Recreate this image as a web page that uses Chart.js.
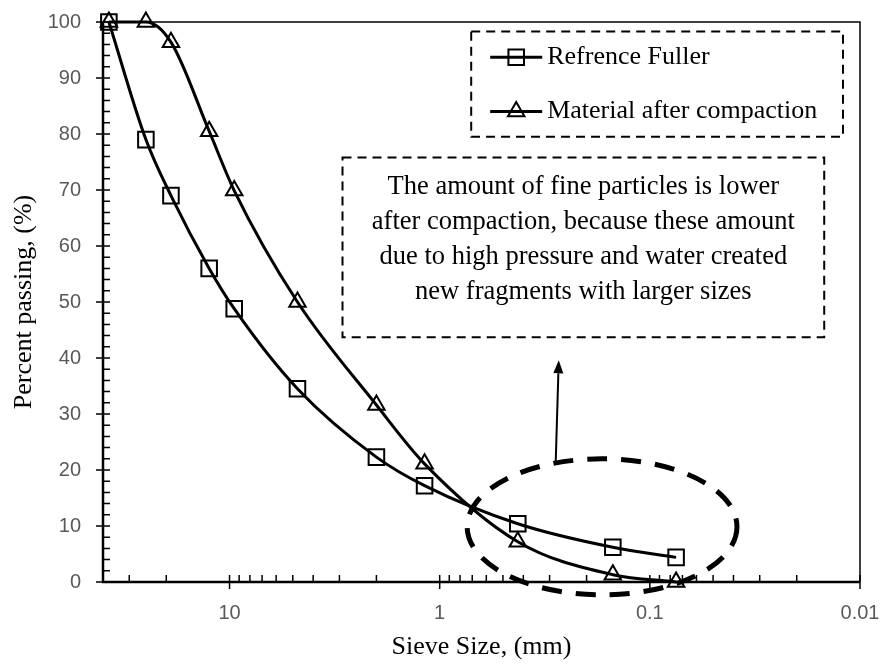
<!DOCTYPE html>
<html>
<head>
<meta charset="utf-8">
<title>Gradation curves</title>
<script src="https://cdn.jsdelivr.net/npm/chart.js@4.4.1/dist/chart.umd.min.js"></script>
<style>
  html, body { margin: 0; padding: 0; background: #fff; }
  #wrap { position: relative; width: 882px; height: 665px; }
</style>
</head>
<body>
<div id="wrap"><canvas id="gradationChart"></canvas></div>
<script>
// sieve sizes (mm) and percent passing for each gradation
const sieveSizes = [37.5, 25, 19, 12.5, 9.5, 4.75, 2.0, 1.18, 0.425, 0.15, 0.075];
const fullerPassing = [100, 79, 69, 56, 48.8, 34.5, 22.3, 17.2, 10.4, 6.2, 4.4];
const compactedPassing = [100, 100, 96.4, 80.5, 69.9, 50, 31.6, 21.1, 7.2, 1.3, 0];
const seriesNames = ["Refrence Fuller", "Material after compaction"];

const xTickValues = [10, 1, 0.1, 0.01];
const xTickLabels = ["10", "1", "0.1", "0.01"];

const noteLines = [
  "The amount of fine particles is lower",
  "after compaction, because these amount",
  "due to high pressure and water created",
  "new fragments with larger sizes",
];

const SERIF = "'Liberation Serif', 'Times New Roman', serif";
const SANS = "'Liberation Sans', Arial, sans-serif";

// overlay placement in axis units (x in mm, y in %)
const legendBox = { x1: 0.708, x2: 0.01205, y1: 98.3, y2: 79.5, rows: [93.7, 84.0] };
const noteBox = { x1: 2.9, x2: 0.0148, y1: 75.8, y2: 43.7 };
const ringArea = { x1: 0.74, x2: 0.0385, y1: 22, y2: -2.3 };
const arrowLine = { x1: 0.2805, y1: 21.4, x2: 0.2713, y2: 39.6 };

const pairs = (ys) => sieveSizes.map((s, i) => ({ x: s, y: ys[i] }));

const frameAndTicks = {
  id: "frameAndTicks",
  beforeDatasetsDraw(chart) {
    const { ctx, chartArea: a, scales: { x, y } } = chart;
    ctx.save();
    ctx.strokeStyle = "#000";
    ctx.lineWidth = 1.5;
    ctx.beginPath();
    ctx.moveTo(a.left, a.top);
    ctx.lineTo(a.right, a.top);
    ctx.lineTo(a.right, a.bottom);
    ctx.stroke();

    ctx.lineWidth = 2.5;
    ctx.beginPath();
    ctx.moveTo(a.left, a.top);
    ctx.lineTo(a.left, a.bottom);
    ctx.lineTo(a.right, a.bottom);
    ctx.stroke();

    ctx.lineWidth = 1.5;
    ctx.beginPath();
    for (let v = 0; v <= 100; v += 2) {
      const py = y.getPixelForValue(v);
      ctx.moveTo(v % 10 === 0 ? a.left - 7 : a.left, py);
      ctx.lineTo(a.left + 7, py);
    }
    for (let e = -2; e <= 1; e++) {
      for (let m = 1; m <= 9; m++) {
        const v = m * Math.pow(10, e);
        if (v >= x.max) continue;
        const px = x.getPixelForValue(v);
        ctx.moveTo(px, m === 1 ? a.bottom + 7 : a.bottom);
        ctx.lineTo(px, a.bottom - 7);
      }
    }
    ctx.stroke();
    ctx.restore();
  },
};

const overlays = {
  id: "overlays",
  afterDatasetsDraw(chart) {
    const { ctx, scales: { x, y } } = chart;
    const X = (v) => x.getPixelForValue(v);
    const Y = (v) => y.getPixelForValue(v);
    ctx.save();

    // legend
    const lx1 = X(legendBox.x1), lx2 = X(legendBox.x2);
    const ly1 = Y(legendBox.y1), ly2 = Y(legendBox.y2);
    ctx.fillStyle = "#fff";
    ctx.fillRect(lx1, ly1, lx2 - lx1, ly2 - ly1);
    ctx.setLineDash([9, 6]);
    ctx.lineWidth = 2;
    ctx.strokeStyle = "#000";
    ctx.strokeRect(lx1, ly1, lx2 - lx1, ly2 - ly1);
    ctx.setLineDash([]);
    chart.data.datasets.forEach((ds, i) => {
      const ry = Y(legendBox.rows[i]);
      ctx.lineWidth = 3;
      ctx.beginPath();
      ctx.moveTo(lx1 + 19, ry);
      ctx.lineTo(lx1 + 71, ry);
      ctx.stroke();
      ctx.lineWidth = ds.pointBorderWidth;
      ctx.fillStyle = "rgba(0,0,0,0)";
      Chart.helpers.drawPoint(ctx, {
        pointStyle: ds.pointStyle,
        radius: ds.pointRadius,
        rotation: 0,
        borderWidth: ds.pointBorderWidth,
      }, lx1 + 45, ry);
      ctx.fillStyle = "#000";
      ctx.font = "26px " + SERIF;
      ctx.textAlign = "left";
      ctx.textBaseline = "middle";
      ctx.fillText(ds.label, lx1 + 76, ry);
    });

    // note box
    const nx1 = X(noteBox.x1), nx2 = X(noteBox.x2);
    const ny1 = Y(noteBox.y1), ny2 = Y(noteBox.y2);
    ctx.fillStyle = "#fff";
    ctx.fillRect(nx1, ny1, nx2 - nx1, ny2 - ny1);
    ctx.setLineDash([9, 6]);
    ctx.lineWidth = 2;
    ctx.strokeRect(nx1, ny1, nx2 - nx1, ny2 - ny1);
    ctx.setLineDash([]);
    ctx.fillStyle = "#000";
    ctx.font = "26.5px " + SERIF;
    ctx.textAlign = "center";
    ctx.textBaseline = "alphabetic";
    noteLines.forEach((t, i) => ctx.fillText(t, (nx1 + nx2) / 2, ny1 + 36 + i * 35));

    // arrow from ring to note
    const ax1 = X(arrowLine.x1), ay1 = Y(arrowLine.y1);
    const ax2 = X(arrowLine.x2), ay2 = Y(arrowLine.y2);
    const ang = Math.atan2(ay2 - ay1, ax2 - ax1);
    const head = 13, half = 5;
    ctx.lineWidth = 2;
    ctx.beginPath();
    ctx.moveTo(ax1, ay1);
    ctx.lineTo(ax2 - head * Math.cos(ang), ay2 - head * Math.sin(ang));
    ctx.stroke();
    ctx.beginPath();
    ctx.moveTo(ax2, ay2);
    ctx.lineTo(ax2 - head * Math.cos(ang) + half * Math.sin(ang), ay2 - head * Math.sin(ang) - half * Math.cos(ang));
    ctx.lineTo(ax2 - head * Math.cos(ang) - half * Math.sin(ang), ay2 - head * Math.sin(ang) + half * Math.cos(ang));
    ctx.closePath();
    ctx.fill();

    // dashed ring around the fine fraction
    const ex1 = X(ringArea.x1), ex2 = X(ringArea.x2);
    const ey1 = Y(ringArea.y1), ey2 = Y(ringArea.y2);
    ctx.lineWidth = 5;
    ctx.setLineDash([20, 14]);
    ctx.beginPath();
    ctx.ellipse((ex1 + ex2) / 2, (ey1 + ey2) / 2, (ex2 - ex1) / 2, (ey2 - ey1) / 2, 0, 0, Math.PI * 2);
    ctx.stroke();
    ctx.restore();
  },
};

const lineStyle = {
  borderColor: "#000",
  borderWidth: 3,
  cubicInterpolationMode: "monotone",
  pointBackgroundColor: "rgba(0,0,0,0)",
  pointBorderColor: "#000",
  pointBorderWidth: 2,
  pointHoverRadius: 0,
  fill: false,
  clip: false,
};

new Chart(document.getElementById("gradationChart"), {
  type: "line",
  data: {
    datasets: [
      { ...lineStyle, label: seriesNames[0], data: pairs(fullerPassing), pointStyle: "rect", pointRadius: 11 },
      { ...lineStyle, label: seriesNames[1], data: pairs(compactedPassing), pointStyle: "triangle", pointRadius: 9.5 },
    ],
  },
  options: {
    responsive: true,
    maintainAspectRatio: false,
    animation: false,
    events: [],
    layout: { padding: { top: 22, right: 22, left: 0, bottom: 0 } },
    plugins: {
      legend: { display: false },
      tooltip: { enabled: false },
    },
    scales: {
      x: {
        type: "logarithmic",
        reverse: true,
        min: 0.01,
        max: 40,
        afterBuildTicks: (scale) => {
          scale.ticks = xTickValues.map((v) => ({ value: v }));
        },
        afterFit: (scale) => {
          scale.height = 83;
          scale.paddingLeft = 0;
          scale.paddingRight = 0;
        },
        ticks: {
          autoSkip: false,
          maxRotation: 0,
          padding: 19,
          color: "#595959",
          font: { family: SANS, size: 20 },
          callback: (v, i) => xTickLabels[i],
        },
        grid: { display: false, drawTicks: false },
        border: { display: false },
        title: {
          display: true,
          text: "Sieve Size, (mm)",
          color: "#000",
          font: { family: SERIF, size: 26 },
          padding: { top: 0, bottom: 2 },
        },
      },
      y: {
        min: 0,
        max: 100,
        afterFit: (scale) => {
          scale.width = 103;
          scale.paddingTop = 0;
          scale.paddingBottom = 0;
        },
        ticks: {
          stepSize: 10,
          padding: 22,
          color: "#595959",
          font: { family: SANS, size: 20 },
        },
        grid: { display: false, drawTicks: false },
        border: { display: false },
        title: {
          display: true,
          text: "Percent passing, (%)",
          color: "#000",
          font: { family: SERIF, size: 26 },
          padding: { top: 9, bottom: 0 },
        },
      },
    },
  },
  plugins: [frameAndTicks, overlays],
});
</script>
</body>
</html>
